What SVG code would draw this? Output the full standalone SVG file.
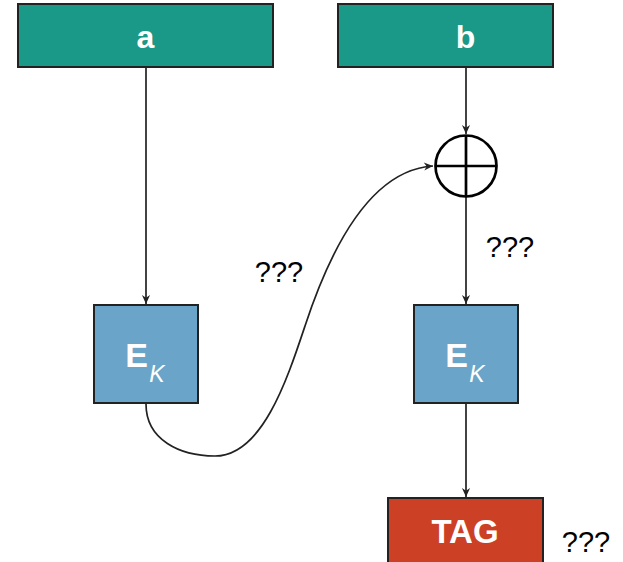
<svg xmlns="http://www.w3.org/2000/svg" width="623" height="562" viewBox="0 0 623 562">
  <style>
    .box { stroke: #222; stroke-width: 2; }
    .input { fill: #1a9988; }
    .enc { fill: #6aa4c9; }
    .tag { fill: #cc4125; }
    .lbl { font-family: "Liberation Sans", Arial, sans-serif; font-weight: bold; fill: #fff; text-anchor: middle; }
    .note { font-family: "Liberation Sans", Arial, sans-serif; font-size: 29px; fill: #000; text-anchor: middle; }
    .wire { fill: none; stroke: #222; stroke-width: 1.7; }
  </style>
  <defs>
    <marker id="arrow" viewBox="0 0 10 10" refX="10" refY="5" markerWidth="9" markerHeight="9" markerUnits="userSpaceOnUse" orient="auto" overflow="visible">
      <path d="M0,0.5 L10,5 L0,9.5 L3,5 Z" fill="#222"/>
    </marker>
  </defs>

  <rect width="623" height="562" fill="#fff"/>

  <g id="connectors">
    <line class="wire" x1="146" y1="68" x2="146" y2="304" marker-end="url(#arrow)"/>
    <line class="wire" x1="466" y1="68" x2="466" y2="134" marker-end="url(#arrow)"/>
    <line class="wire" x1="466" y1="197" x2="466" y2="304" marker-end="url(#arrow)"/>
    <line class="wire" x1="466" y1="404" x2="466" y2="497" marker-end="url(#arrow)"/>
    <path class="wire" d="M146,404 C146,440 180,456 215,456 C262,456 287,380 305,326 C330,250 370,170 433,166" marker-end="url(#arrow)"/>
  </g>

  <g id="node-a">
    <rect class="box input" x="18" y="4" width="255" height="63"/>
    <text class="lbl" x="145.5" y="48" font-size="32">a</text>
  </g>

  <g id="node-b">
    <rect class="box input" x="338" y="4" width="215" height="63"/>
    <text class="lbl" x="465.5" y="48" font-size="32">b</text>
  </g>

  <g id="node-xor">
    <circle cx="466" cy="166" r="30.5" fill="#fff" stroke="#000" stroke-width="2.7"/>
    <line x1="466" y1="135.5" x2="466" y2="196.5" stroke="#000" stroke-width="2.7"/>
    <line x1="435.5" y1="166" x2="496.5" y2="166" stroke="#000" stroke-width="2.7"/>
  </g>

  <g id="node-enc-left">
    <rect class="box enc" x="94" y="305" width="104" height="98"/>
    <text class="lbl" x="136.5" y="367" font-size="34">E</text>
    <text x="157" y="382" font-family="Liberation Sans, Arial, sans-serif" font-style="italic" font-size="23" fill="#fff" text-anchor="middle">K</text>
  </g>

  <g id="node-enc-right">
    <rect class="box enc" x="414" y="305" width="104" height="98"/>
    <text class="lbl" x="456.5" y="367" font-size="34">E</text>
    <text x="477" y="382" font-family="Liberation Sans, Arial, sans-serif" font-style="italic" font-size="23" fill="#fff" text-anchor="middle">K</text>
  </g>

  <g id="node-tag">
    <rect class="box tag" x="388" y="498" width="155" height="70"/>
    <text class="lbl" x="465" y="543" font-size="33">TAG</text>
  </g>

  <g id="notes">
    <text class="note" x="279" y="282">???</text>
    <text class="note" x="510" y="257">???</text>
    <text class="note" x="586" y="552">???</text>
  </g>
</svg>
